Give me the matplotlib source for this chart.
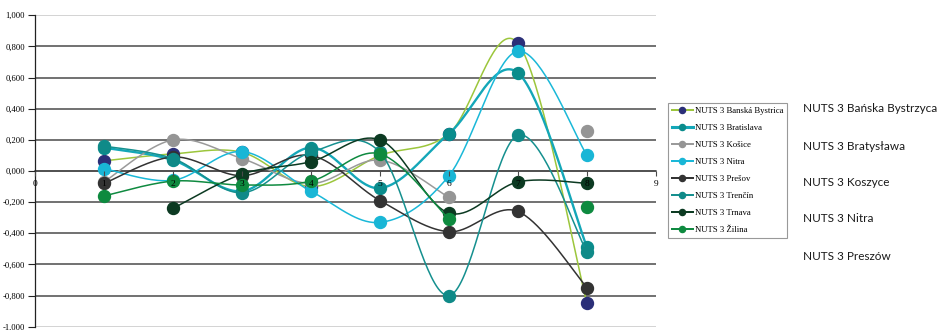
import numpy as np
import matplotlib
matplotlib.use("Agg")
import matplotlib.pyplot as plt
from matplotlib.lines import Line2D

# ---- data -------------------------------------------------------------
periods = [1, 2, 3, 4, 5, 6, 7, 8]

banska_bystrica = [0.065, 0.11, 0.12, -0.10, 0.10, 0.24, 0.82, -0.85]
bratislava = [0.15, 0.07, -0.13, 0.15, -0.11, 0.24, 0.63, -0.49]
kosice = [-0.07, 0.20, 0.08, -0.08, 0.07, -0.17, None, 0.26]
nitra = [0.015, -0.06, 0.125, -0.13, -0.33, -0.03, 0.77, 0.10]
presov = [-0.08, 0.09, -0.03, 0.10, -0.19, -0.39, -0.26, -0.75]
trencin = [0.16, 0.08, -0.14, 0.12, 0.12, -0.80, 0.23, -0.52]
trnava = [None, -0.24, -0.02, 0.06, 0.20, -0.27, -0.07, -0.08]
zilina = [-0.16, -0.065, -0.09, -0.065, 0.11, -0.31, None, -0.23]

series_labels = [
    "NUTS 3 Banská Bystrica", "NUTS 3 Bratislava", "NUTS 3 Košice",
    "NUTS 3 Nitra", "NUTS 3 Prešov", "NUTS 3 Trenčín", "NUTS 3 Trnava",
    "NUTS 3 Žilina",
]
series_values = [banska_bystrica, bratislava, kosice, nitra, presov,
                 trencin, trnava, zilina]

polish_names = [
    "NUTS 3 Bańska Bystrzyca", "NUTS 3 Bratysława", "NUTS 3 Koszyce",
    "NUTS 3 Nitra", "NUTS 3 Preszów",
]

x_ticks = [0, 1, 2, 3, 4, 5, 6, 7, 8, 9]
y_ticks = [-1.0, -0.8, -0.6, -0.4, -0.2, 0.0, 0.2, 0.4, 0.6, 0.8, 1.0]

# ---- styles -----------------------------------------------------------
line_colors = ["#9cc63c", "#14a7b8", "#9a9a9a", "#1ab8d8",
               "#333333", "#15908f", "#0c3a22", "#0f8a40"]
marker_colors = ["#2b2f78", "#0a8c8c", "#959595", "#19b6d6",
                 "#333333", "#0f8a88", "#0c3a22", "#0e8a3f"]
line_widths = [1.1, 1.7, 1.1, 1.1, 1.1, 1.1, 1.1, 1.1]

serif = "Liberation Serif"


def smooth_segment(xs, ys, n=40):
    """Cubic Bezier smoothing (Catmull-Rom style) through the given points."""
    pts = np.column_stack([xs, ys]).astype(float)
    if len(pts) < 2:
        return pts
    out = []
    for i in range(len(pts) - 1):
        p0 = pts[i - 1] if i > 0 else pts[i]
        p1 = pts[i]
        p2 = pts[i + 1]
        p3 = pts[i + 2] if i + 2 < len(pts) else pts[i + 1]
        c1 = p1 + (p2 - p0) / 6.0
        c2 = p2 - (p3 - p1) / 6.0
        t = np.linspace(0, 1, n)[:, None]
        seg = ((1 - t) ** 3) * p1 + 3 * ((1 - t) ** 2) * t * c1 \
            + 3 * (1 - t) * (t ** 2) * c2 + (t ** 3) * p2
        out.append(seg if i == 0 else seg[1:])
    return np.vstack(out)


def runs(xs, ys):
    """Split a series into runs of consecutive non-missing values."""
    cur_x, cur_y = [], []
    for x, y in zip(xs, ys):
        if y is None:
            if cur_x:
                yield cur_x, cur_y
            cur_x, cur_y = [], []
        else:
            cur_x.append(x)
            cur_y.append(y)
    if cur_x:
        yield cur_x, cur_y


fig = plt.figure(figsize=(9.4, 3.3), dpi=100)
ax = fig.add_axes([35 / 940, 3.3 / 330, 621 / 940, 311.4 / 330])

ax.set_xlim(x_ticks[0], x_ticks[-1])
ax.set_ylim(y_ticks[0], y_ticks[-1])

# horizontal gridlines
for v in y_ticks:
    col = "#c8c8c8" if abs(v) == 1.0 else "#4a4a4a"
    ax.axhline(v, color=col, lw=1.1, zorder=1)

# series
for i, (vals, lc, mc, lw) in enumerate(zip(series_values, line_colors,
                                            marker_colors, line_widths)):
    z = 3 + i
    for rx, ry in runs(periods, vals):
        if len(rx) > 1:
            curve = smooth_segment(rx, ry)
            ax.plot(curve[:, 0], curve[:, 1], color=lc, lw=lw, zorder=z,
                    solid_capstyle="round")
        ax.plot(rx, ry, linestyle="none", marker="o", markersize=8.6,
                markerfacecolor=mc, markeredgecolor=mc, zorder=z)

# axes styling
for side in ("top", "right"):
    ax.spines[side].set_visible(False)
ax.spines["left"].set_color("#222222")
ax.spines["left"].set_linewidth(0.9)
ax.spines["bottom"].set_position(("data", 0))
ax.spines["bottom"].set_color("#4a4a4a")
ax.spines["bottom"].set_linewidth(1.1)
ax.spines["bottom"].set_zorder(1)

ax.set_yticks(y_ticks)
ax.set_yticklabels([f"{v:.3f}".replace(".", ",") for v in y_ticks],
                   fontfamily=serif, fontsize=6.2)
ax.tick_params(axis="y", direction="out", length=5, width=0.8,
               color="#222222", pad=2)

ax.set_xticks(x_ticks)
ax.set_xticklabels([str(v) for v in x_ticks], fontfamily=serif, fontsize=6.8)
ax.tick_params(axis="x", direction="out", length=3.5, width=0.8,
               color="#4a4a4a", pad=3)
ax.xaxis.set_zorder(20)
ax.patch.set_visible(False)

# legend
handles = []
for lab, lc, mc, lw in zip(series_labels, line_colors, marker_colors,
                           line_widths):
    handles.append(Line2D([0], [0], color=lc, lw=lw * 1.3, marker="o",
                          markersize=4.4, markerfacecolor=mc,
                          markeredgecolor=mc, label=lab))
leg = fig.legend(handles=handles, loc="upper left",
                 bbox_to_anchor=(668 / 940, (330 - 103) / 330),
                 bbox_transform=fig.transFigure, borderaxespad=0,
                 frameon=True, fancybox=False, numpoints=1,
                 prop={"family": serif, "size": 6.3},
                 handlelength=2.4, handletextpad=0.3, labelspacing=1.02,
                 borderpad=0.42)
leg.get_frame().set_edgecolor("#808080")
leg.get_frame().set_linewidth(0.8)

# Polish names column
name_y = [108, 147, 183, 219, 256]
for name, yy in zip(polish_names, name_y):
    fig.text(803 / 940, (330 - yy) / 330, name, family="Lato",
             fontsize=8.5, color="#1a1a1a", va="center", ha="left")

fig.savefig("out.png", dpi=100)
